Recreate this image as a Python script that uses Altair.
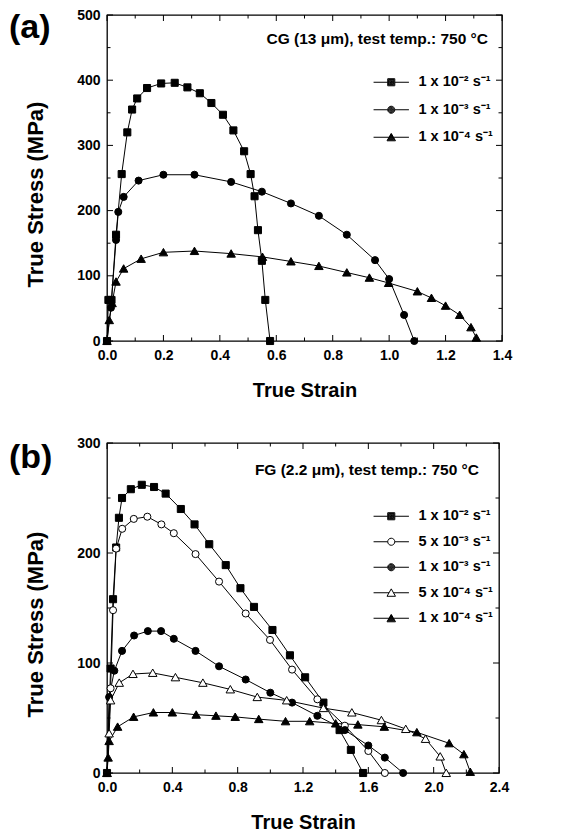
import altair as alt
import pandas as pd

FONT = "Liberation Sans"

# ---------------- Panel (a): CG (13 um), 750 C ----------------
a_labels = ["1 x 10⁻² s⁻¹", "1 x 10⁻³ s⁻¹", "1 x 10⁻⁴ s⁻¹"]

a1_strain = [0.0, 0.005, 0.016, 0.032, 0.052, 0.072, 0.089, 0.107, 0.142, 0.192, 0.24, 0.285,
             0.329, 0.37, 0.411, 0.448, 0.486, 0.509, 0.523, 0.535, 0.549, 0.561, 0.578]
a1_stress = [0, 63, 63, 163, 256, 320, 355, 372, 388, 395, 396, 389,
             380, 365, 347, 323, 291, 256, 222, 170, 123, 63, 0]

a2_strain = [0.0, 0.014, 0.032, 0.04, 0.059, 0.112, 0.2, 0.31, 0.44, 0.549, 0.652, 0.751,
             0.85, 0.95, 1.0, 1.053, 1.089]
a2_stress = [0, 51, 155, 198, 221, 246, 255, 255, 244, 229, 211, 192,
             163, 124, 95, 40, 0]

a3_strain = [0.0, 0.008, 0.018, 0.032, 0.059, 0.121, 0.2, 0.31, 0.44, 0.551, 0.652, 0.751,
             0.85, 0.93, 0.998, 1.1, 1.15, 1.2, 1.25, 1.29, 1.309]
a3_stress = [0, 32, 58, 91, 111, 126, 136, 138, 134, 129, 122, 115,
             105, 97, 89, 76, 66, 54, 40, 21, 5]

a_xmajor = [0.0, 0.2, 0.4, 0.6, 0.8, 1.0, 1.2, 1.4]
a_xminor = [0.1, 0.3, 0.5, 0.7, 0.9, 1.1, 1.3]
a_ymajor = [0, 100, 200, 300, 400, 500]
a_yminor = [50, 150, 250, 350, 450]

# ---------------- Panel (b): FG (2.2 um), 750 C ----------------
b_labels = ["1 x 10⁻² s⁻¹", "5 x 10⁻³ s⁻¹", "1 x 10⁻³ s⁻¹", "5 x 10⁻⁴ s⁻¹", "1 x 10⁻⁴ s⁻¹"]

b1_strain = [0.0, 0.022, 0.037, 0.056, 0.073, 0.092, 0.146, 0.213, 0.288, 0.359, 0.452, 0.536,
             0.626, 0.727, 0.817, 0.9, 1.013, 1.12, 1.213, 1.325, 1.424, 1.493, 1.568]
b1_stress = [0, 95, 158, 205, 232, 250, 258, 262, 260, 254, 240, 226,
             208, 189, 168, 151, 130, 107, 87, 64, 39, 21, 0]

b2_strain = [0.0, 0.022, 0.037, 0.056, 0.093, 0.164, 0.247, 0.333, 0.409, 0.542, 0.686, 0.849,
             0.998, 1.133, 1.288, 1.456, 1.6, 1.701]
b2_stress = [0, 77, 148, 204, 222, 231, 233, 226, 218, 199, 174, 145,
             121, 94, 67, 43, 20, 0]

b3_strain = [0.0, 0.013, 0.045, 0.092, 0.166, 0.25, 0.331, 0.409, 0.542, 0.686, 0.849, 1.0,
             1.133, 1.288, 1.456, 1.6, 1.701, 1.813]
b3_stress = [0, 69, 93, 111, 125, 129, 129, 122, 111, 97, 85, 73,
             64, 52, 39, 25, 14, 0]

b4_strain = [0.0, 0.013, 0.022, 0.075, 0.159, 0.28, 0.419, 0.587, 0.755, 0.92, 1.1, 1.325,
             1.499, 1.68, 1.829, 1.95, 2.04, 2.077]
b4_stress = [0, 36, 66, 82, 90, 91, 87, 82, 76, 69, 66, 59,
             55, 48, 40, 31, 15, 0]

b5_strain = [0.0, 0.007, 0.013, 0.065, 0.163, 0.284, 0.4, 0.546, 0.667, 0.785, 0.929, 1.093,
             1.241, 1.4, 1.536, 1.698, 1.897, 2.095, 2.185, 2.224]
b5_stress = [0, 14, 29, 42, 51, 55, 55, 53, 52, 51, 49, 47,
             47, 45, 44, 42, 37, 27, 17, 1]

b_xmajor = [0.0, 0.4, 0.8, 1.2, 1.6, 2.0, 2.4]
b_xminor = [0.2, 0.6, 1.0, 1.4, 1.8, 2.2]
b_ymajor = [0, 100, 200, 300]
b_yminor = [50, 150, 250]


# ---------- marker shapes (points) and legend symbols (line + marker) ----------
def _sq(k):
    return f"M{-k},{-k}H{k}V{k}H{-k}Z"


def _ci(k):
    return f"M{k},0A{k},{k},0,1,1,{-k},0A{k},{k},0,1,1,{k},0Z"


def _tr(k):
    return f"M0,{-1.1 * k:.3f}L{1.2 * k:.3f},{k:.3f}L{-1.2 * k:.3f},{k:.3f}Z"


TRI = _tr(1)
SEG = "M-5,0H-1M1,0H5"
SEG_T = "M-5,0H-0.63M0.63,0H5"
FILL_STEPS = [1, 0.8, 0.6, 0.4, 0.2, 0.05]
LEG_SQ_F = SEG + "".join(_sq(k) for k in FILL_STEPS)
LEG_CI_F = SEG + "".join(_ci(k) for k in FILL_STEPS)
LEG_CI_O = SEG + _ci(1)
LEG_TR_F = SEG_T + "".join(_tr(k) for k in FILL_STEPS)
LEG_TR_O = SEG_T + _tr(1)


def long_df(series, labels):
    rows = []
    for (xs, ys), lab in zip(series, labels):
        for i, (xv, yv) in enumerate(zip(xs, ys)):
            rows.append({"strain": xv, "stress": yv, "series": lab, "idx": i})
    return pd.DataFrame(rows)


def panel(series, labels, pshapes, lshapes, fills, xmax, ymax, xmaj, xmin, ymaj, ymin,
          W, H, annot, annot_x, annot_y, tag, tag_x, tag_y, leg_x, leg_y, row_pad):
    df = long_df(series, labels)
    X = alt.X("strain:Q", scale=alt.Scale(domain=[0, xmax], nice=False, zero=False),
              axis=alt.Axis(values=xmaj, format=".1f", title="True Strain", ticks=False,
                            domain=False, grid=False, labelPadding=7, titlePadding=18,
                            labelFlush=False))
    Y = alt.Y("stress:Q", scale=alt.Scale(domain=[0, ymax], nice=False),
              axis=alt.Axis(values=ymaj, format="d", title="True Stress (MPa)", ticks=False,
                            domain=False, grid=False, labelPadding=7, titlePadding=29,
                            labelFlush=False, titleFontSize=22, titleY=H / 2 + 16))
    base = alt.Chart(df)
    lines = base.mark_line(color="black", strokeWidth=1).encode(
        x=X, y=Y, detail="series:N", order="idx:Q")
    pts = base.mark_point(size=50, stroke="black", strokeWidth=1, opacity=1).encode(
        x=X, y=Y,
        shape=alt.Shape("series:N", scale=alt.Scale(domain=labels, range=pshapes), legend=None),
        fill=alt.Fill("series:N", scale=alt.Scale(domain=labels, range=fills), legend=None))
    leg = alt.Legend(title=None, orient="none", legendX=leg_x, legendY=leg_y,
                     labelFont=FONT, labelFontSize=14.5, labelFontWeight="bold",
                     labelColor="black", symbolSize=50, symbolStrokeColor="black",
                     symbolStrokeWidth=1, labelOffset=20, rowPadding=row_pad, padding=0,
                     labelLimit=300, symbolOpacity=1)
    legend_layer = base.transform_filter("false").mark_point(
        size=50, filled=False, color="black", strokeWidth=1, opacity=1).encode(
        x=X, y=Y,
        shape=alt.Shape("series:N", scale=alt.Scale(domain=labels, range=lshapes), legend=leg))

    ticks = []
    for vals, L in ((xmaj, 6), (xmin, 3.5)):
        d = pd.DataFrame({"strain": vals})
        ticks.append(alt.Chart(d).mark_rule(color="black", strokeWidth=1).encode(
            x=X, y=alt.value(H), y2=alt.value(H - L)))
        ticks.append(alt.Chart(d).mark_rule(color="black", strokeWidth=1).encode(
            x=X, y=alt.value(0), y2=alt.value(L)))
    for vals, L in ((ymaj, 6), (ymin, 3.5)):
        d = pd.DataFrame({"stress": vals})
        ticks.append(alt.Chart(d).mark_rule(color="black", strokeWidth=1).encode(
            y=Y, x=alt.value(0), x2=alt.value(L)))
        ticks.append(alt.Chart(d).mark_rule(color="black", strokeWidth=1).encode(
            y=Y, x=alt.value(W), x2=alt.value(W - L)))

    ann = alt.Chart(pd.DataFrame({"t": [annot]})).mark_text(
        align="right", baseline="middle", font=FONT, fontSize=15.5, fontWeight="bold",
        color="black").encode(text="t:N", x=alt.value(annot_x), y=alt.value(annot_y))
    tg = alt.Chart(pd.DataFrame({"t": [tag]})).mark_text(
        align="left", baseline="middle", font=FONT, fontSize=34, fontWeight="bold",
        color="black").encode(text="t:N", x=alt.value(tag_x), y=alt.value(tag_y))

    return alt.layer(lines, pts, legend_layer, *ticks, ann, tg).resolve_scale(
        shape="independent", fill="independent").properties(width=W, height=H)


chart_a = panel(
    [(a1_strain, a1_stress), (a2_strain, a2_stress), (a3_strain, a3_stress)], a_labels,
    ["square", "circle", TRI], [LEG_SQ_F, LEG_CI_F, LEG_TR_F], ["black", "black", "black"],
    1.4, 500, a_xmajor, a_xminor, a_ymajor, a_yminor,
    395, 326, "CG (13 μm), test temp.: 750 °C", 381, 24, "(a)", -98, 13, 277, 60, 12.5)

chart_b = panel(
    [(b1_strain, b1_stress), (b2_strain, b2_stress), (b3_strain, b3_stress),
     (b4_strain, b4_stress), (b5_strain, b5_stress)], b_labels,
    ["square", "circle", "circle", TRI, TRI],
    [LEG_SQ_F, LEG_CI_O, LEG_CI_F, LEG_TR_O, LEG_TR_F],
    ["black", "white", "black", "white", "black"],
    2.4, 300, b_xmajor, b_xminor, b_ymajor, b_yminor,
    392, 330, "FG (2.2 μm), test temp.: 750 °C", 372, 27, "(b)", -98, 15, 277, 66, 10.5)

chart = alt.concat(chart_a, chart_b, columns=1, align="none", spacing=34).properties(
    padding={"left": 0, "top": -1, "right": 0, "bottom": 0}
).configure_axis(
    labelFont=FONT, labelFontSize=14, labelFontWeight="bold", labelColor="black",
    titleFont=FONT, titleFontSize=20, titleFontWeight="bold", titleColor="black"
).configure_view(stroke="black", strokeWidth=1.3)

chart.save("out.html", embed_options={"renderer": "svg", "actions": False})
